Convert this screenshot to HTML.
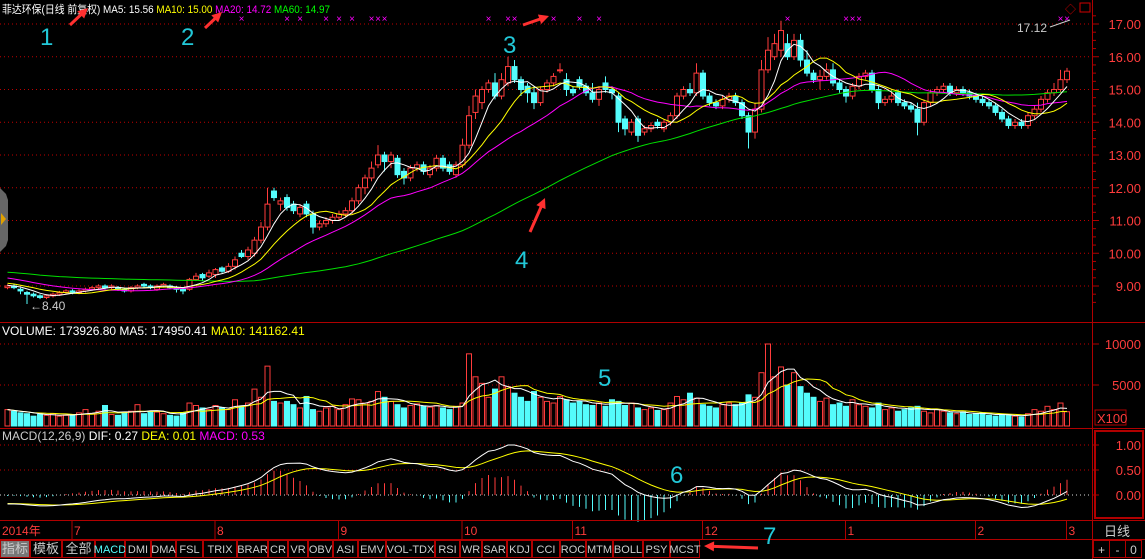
<!DOCTYPE html>
<html><head><meta charset="utf-8">
<style>
html,body{margin:0;padding:0;background:#000;}
body{width:1145px;height:559px;overflow:hidden;font-family:"Liberation Sans","Noto Sans CJK SC",sans-serif;}
svg{display:block;}
</style></head>
<body>
<svg id="chart" width="1145" height="559" xmlns="http://www.w3.org/2000/svg" font-family="Liberation Sans, Noto Sans CJK SC, sans-serif">
<rect x="0" y="0" width="1145" height="559" fill="#000"/>
<g id="grid"></g>
<g id="marks"></g>
<g id="frame"></g>
</svg>
<script>
const NS='http://www.w3.org/2000/svg';
const priorCloses=[9.9,9.85,9.9,9.8,9.75,9.8,9.7,9.65,9.7,9.6,9.55,9.6,9.5,9.45,9.5,9.4,9.35,9.4,9.3,9.3,9.25,9.2,9.2,9.15,9.1,9.1,9.05,9.0,9.05,9.0];
const closes=[9.0,8.95,8.85,8.75,8.7,8.65,8.7,8.75,8.8,8.85,8.8,8.85,8.9,8.95,9.0,8.95,9.0,8.9,8.85,8.95,9.0,9.0,8.95,9.0,9.05,8.95,8.9,8.85,
9.2,9.3,9.25,9.4,9.5,9.45,9.6,9.8,9.9,10.1,
10.4,10.8,11.5,11.7,11.6,11.4,11.3,11.4,11.2,10.8,
10.9,11.0,11.1,11.2,11.3,11.6,12.0,12.3,12.6,13.0,
12.8,13.0,12.4,12.3,12.6,12.7,12.5,12.6,12.9,12.6,
12.5,12.7,13.3,14.2,14.8,15.0,15.2,14.8,15.3,15.7,
15.3,15.0,14.9,14.6,15.0,15.2,15.4,15.6,15.0,14.9,
15.1,14.9,14.7,15.0,15.0,14.9,14.0,13.8,14.0,13.6,
13.8,13.9,13.9,14.0,14.2,14.8,15.0,14.9,15.5,14.8,
14.6,14.5,14.7,14.8,14.6,14.2,13.7,14.4,15.6,16.2,
16.4,16.8,16.0,16.5,15.9,15.5,15.3,15.4,15.6,15.2,
15.0,14.8,15.1,15.4,15.5,15.0,14.6,14.7,14.8,14.6,
14.5,14.4,14.0,14.6,14.9,15.0,15.1,14.9,15.0,14.9,
14.8,14.7,14.6,14.5,14.3,14.1,13.9,14.0,13.9,14.2,
14.4,14.7,14.9,15.0,15.3,15.56];
const opens=[8.95,9.0,8.9,8.8,8.75,8.7,8.65,8.7,8.75,8.8,8.85,8.8,8.85,8.9,8.95,9.0,8.95,8.95,8.9,8.85,8.95,9.05,9.0,8.9,9.0,9.0,8.95,8.9,
8.9,9.2,9.35,9.3,9.35,9.55,9.45,9.6,10.0,9.9,
10.0,10.4,10.8,11.9,11.5,11.7,11.5,11.2,11.5,11.2,
10.8,10.9,11.0,11.1,11.2,11.3,11.6,12.0,12.3,12.7,
13.0,12.8,12.9,12.5,12.3,12.6,12.7,12.4,12.6,12.9,
12.7,12.4,12.7,13.3,14.3,14.6,15.0,15.2,14.8,15.2,
15.7,15.3,15.1,14.9,14.6,15.0,15.2,15.6,15.3,15.0,
15.3,15.1,14.9,14.7,15.2,15.0,14.8,14.1,13.7,14.1,
13.7,13.8,14.0,13.8,14.0,14.2,14.8,15.0,14.9,15.5,
14.8,14.6,14.5,14.7,14.8,14.6,14.2,13.7,14.4,15.6,
16.0,16.2,16.4,16.0,16.5,15.9,15.5,15.3,15.4,15.6,
15.2,15.0,14.8,15.1,15.4,15.5,15.0,14.6,14.7,14.9,
14.6,14.5,14.4,14.0,14.6,14.9,15.0,15.1,14.9,15.0,
14.9,14.8,14.7,14.6,14.5,14.3,14.1,13.9,14.0,13.9,
14.2,14.4,14.7,14.9,15.0,15.3];
const upWicks=[0.05,0.05,0.05,0.05,0.05,0.05,0.05,0.05,0.05,0.05,0.05,0.05,0.05,0.05,0.05,0.05,0.05,0.05,0.05,0.05,0.05,0.05,0.05,0.05,0.05,0.05,0.05,0.05,
0.05,0.1,0.05,0.1,0.05,0.05,0.1,0.1,0.1,0.1,
0.1,0.15,0.5,0.1,0.1,0.1,0.1,0.1,0.1,0.1,
0.1,0.1,0.1,0.1,0.1,0.1,0.1,0.1,0.2,0.3,
0.1,0.1,0.1,0.1,0.1,0.1,0.1,0.1,0.1,0.1,
0.1,0.1,0.2,0.3,0.2,0.1,0.1,0.3,0.2,0.3,
0.2,0.1,0.1,0.2,0.1,0.1,0.1,0.2,0.2,0.1,
0.1,0.1,0.3,0.1,0.2,0.1,0.1,0.1,0.1,0.1,
0.1,0.1,0.1,0.1,0.1,0.1,0.1,0.2,0.3,0.1,
0.1,0.1,0.1,0.1,0.1,0.1,0.1,0.2,0.3,0.4,
0.3,0.3,0.3,0.2,0.2,0.3,0.1,0.2,0.2,0.2,
0.1,0.1,0.1,0.1,0.1,0.1,0.1,0.1,0.2,0.1,
0.1,0.1,0.2,0.1,0.1,0.1,0.1,0.1,0.1,0.1,
0.1,0.1,0.1,0.1,0.1,0.1,0.1,0.1,0.1,0.1,
0.1,0.1,0.1,0.2,0.3,0.1];
const downWicks=[0.05,0.05,0.1,0.3,0.05,0.05,0.05,0.05,0.05,0.05,0.05,0.05,0.05,0.05,0.05,0.05,0.05,0.05,0.05,0.05,0.05,0.05,0.05,0.05,0.05,0.05,0.1,0.1,
0.05,0.05,0.1,0.05,0.1,0.05,0.05,0.1,0.05,0.1,
0.1,0.1,0.1,0.1,0.2,0.1,0.1,0.1,0.1,0.2,
0.1,0.1,0.1,0.1,0.1,0.1,0.1,0.2,0.1,0.1,
0.3,0.2,0.1,0.2,0.1,0.1,0.1,0.1,0.1,0.1,
0.1,0.1,0.1,0.1,0.2,0.2,0.1,0.1,0.1,0.1,
0.1,0.2,0.3,0.2,0.1,0.1,0.1,0.1,0.2,0.1,
0.1,0.1,0.1,0.2,0.1,0.2,0.3,0.2,0.1,0.2,
0.1,0.1,0.1,0.1,0.1,0.1,0.1,0.1,0.1,0.1,
0.1,0.1,0.1,0.1,0.1,0.1,0.5,0.2,0.1,0.1,
0.1,0.2,0.1,0.1,0.2,0.1,0.1,0.3,0.1,0.1,
0.1,0.2,0.1,0.1,0.1,0.1,0.2,0.1,0.1,0.1,
0.1,0.1,0.4,0.1,0.1,0.1,0.1,0.1,0.1,0.1,
0.1,0.1,0.1,0.1,0.1,0.1,0.1,0.1,0.1,0.1,
0.1,0.1,0.1,0.1,0.1,0.1];
const volumes=[2000,1800,1600,1500,1200,1400,1300,1500,1200,1300,1400,1600,2000,1500,1800,2500,1400,1300,1600,1800,2600,1500,1800,1700,1500,1300,1200,1600,
2800,2500,2200,2000,2500,2200,2000,3200,2400,2800,
4500,3500,7300,3000,2800,3000,2600,2200,3600,2000,
1800,2200,2400,2000,2600,3300,3200,2800,3000,4200,
3500,3000,2600,2200,2500,2700,2400,2300,2500,2200,
2000,2400,2800,8800,6000,5200,3500,4500,6000,4800,
4000,3500,3000,4200,3500,3000,2800,3600,3200,2800,
3000,2600,2500,2800,2400,3200,3000,2500,2800,2200,
2000,2200,1900,2000,2800,3600,3200,4000,3400,2600,
2400,2200,2600,2800,2600,2800,3800,3500,6500,10000,
6000,7200,5000,6500,4800,4000,3500,3000,3400,2600,
2800,2400,3200,2600,2400,2200,2800,2000,2200,1800,
2000,2200,2400,1800,1600,2000,1800,1600,1500,1700,
1400,1500,1600,1300,1200,1400,1300,1200,1100,1500,
2000,1800,2400,2000,2800,1740];
const priceTicks=[17,16,15,14,13,12,11,10,9];
const volTicks=[10000,5000];
const macdTicks=[1.0,0.5,0.0];
const monthLabels=['2014年','7','8','9','10','11','12','1','2','3'];
const monthStartIdx=[0,11,33,52,71,88,108,130,150,164];
const tabLabels=['指标','模板','全部','MACD','DMI','DMA','FSL','TRIX','BRAR','CR','VR','OBV','ASI','EMV','VOL-TDX','RSI','WR','SAR','KDJ','CCI','ROC','MTM','BOLL','PSY','MCST'];
const tabWidths=[30,32,33,30,26,25,27,34,31,20,20,25,25,28,49,25,22,25,25,28,26,27,30,27,30];

const xC=i=>7.5+6.5*i;
const yP=p=>24+(17-p)*32.75;
const yV=v=>426-v*0.0082;
const yM=m=>495-m*50;

const G=document.getElementById('grid'),M=document.getElementById('marks'),F=document.getElementById('frame');
function mk(tag,attrs,parent){const e=document.createElementNS(NS,tag);for(const k in attrs)e.setAttribute(k,attrs[k]);parent.appendChild(e);return e;}
function txt(s,x,y,fill,size,parent,anchor){const t=mk('text',{x:x,y:y,fill:fill,'font-size':size},parent);if(anchor)t.setAttribute('text-anchor',anchor);t.textContent=s;return t;}

priceTicks.forEach(p=>{const l=mk('line',{x1:0,x2:1092,y1:yP(p),y2:yP(p),stroke:'#c00000','stroke-dasharray':'1,3'},G);

});
volTicks.forEach(v=>{const l=mk('line',{x1:0,x2:1092,y1:yV(v),y2:yV(v),stroke:'#c00000','stroke-dasharray':'1,3'},G);

});
macdTicks.forEach(m=>{const l=mk('line',{x1:0,x2:1092,y1:yM(m),y2:yM(m),stroke:m===0?'#ddd':'#c00000','stroke-dasharray':'1,3'},G);

});

const allC=priorCloses.concat(closes),off=priorCloses.length;
function ma(arr,n,offset){return closes.map((_,i)=>{const e=i+offset;const s=Math.max(0,e-n+1);let t=0;for(let k=s;k<=e;k++)t+=arr[k];return t/(e-s+1);});}
function poly(vals,yf,color,name,parent,w){const pts=vals.map((v,i)=>xC(i).toFixed(1)+','+yf(v).toFixed(1)).join(' ');
const p=mk('polyline',{points:pts,fill:'none',stroke:color,'stroke-width':w||1},parent);

}
const ma5=ma(allC,5,off),ma10=ma(allC,10,off),ma20=ma(allC,20,off),ma60=ma(allC,60,off);

closes.forEach((c,i)=>{const o=opens[i];const up=c>=o;const col=up?'#ff3c3c':'#54fcfc';const cx=xC(i);
const hi=Math.max(o,c)+upWicks[i],lo=Math.min(o,c)-downWicks[i];
const g=mk('g',{},M);


mk('line',{x1:cx,x2:cx,y1:yP(hi),y2:yP(lo),stroke:col},g);
const top=yP(Math.max(o,c)),h=Math.max(1,yP(Math.min(o,c))-top);
mk('rect',{x:cx-2.5,y:top,width:5,height:h,fill:up?'#000':col,stroke:col,'stroke-width':1},g);});
poly(ma60,yP,'#00e000','ma60-line',M);
poly(ma20,yP,'#ff00ff','ma20-line',M);
poly(ma10,yP,'#ffff00','ma10-line',M);
poly(ma5,yP,'#ffffff','ma5-line',M);

volumes.forEach((v,i)=>{const up=closes[i]>=opens[i];const col=up?'#ff3c3c':'#54fcfc';const cx=xC(i);
const r=mk('rect',{x:cx-2.5,y:yV(v),width:5,height:426-yV(v),fill:up?'#000':col,stroke:col},M);

});
function vma(n){return volumes.map((_,i)=>{const s=Math.max(0,i-n+1);let t=0;for(let k=s;k<=i;k++)t+=volumes[k];return t/(i-s+1);});}
poly(vma(10),yV,'#ffff00','volume-ma10-line',M);
poly(vma(5),yV,'#ffffff','volume-ma5-line',M);

function ema(arr,n){const a=2/(n+1);const out=[];let e=arr[0];arr.forEach((v,i)=>{e=i===0?v:a*v+(1-a)*e;out.push(e);});return out;}
const e12=ema(allC,12),e26=ema(allC,26);
const difAll=e12.map((v,i)=>v-e26[i]);const deaAll=ema(difAll,9);
const dif=difAll.slice(off),dea=deaAll.slice(off);
dif.forEach((d,i)=>{const h=2*(d-dea[i]);const cx=xC(i);
const l=mk('line',{x1:cx,x2:cx,y1:yM(0),y2:yM(h),stroke:h>=0?'#ff3c3c':'#54fcfc'},M);

});
poly(dea,yM,'#ffff00','dea-line',M);
poly(dif,yM,'#ffffff','dif-line',M);

const fc='#b00000';
[[0,322.5,1145,322.5],[0,428.5,1145,428.5],[0,520.5,1145,520.5],[0,539.5,1145,539.5],[1092.5,0,1092.5,559]].forEach(a=>{
const l=mk('line',{x1:a[0],y1:a[1],x2:a[2],y2:a[3],stroke:fc},F);

});
for(let p=8.5;p<=17.5;p+=0.25){const y=yP(p);if(y<10||y>320)continue;mk('line',{x1:1093,x2:(p%1===0)?1099:1096,y1:y,y2:y,stroke:fc},F);}
priceTicks.forEach(p=>{const t=txt(p.toFixed(2),1141,yP(p)+5,'#ff3c3c',13,F,'end');

});
volTicks.forEach(v=>{mk('line',{x1:1093,x2:1099,y1:yV(v),y2:yV(v),stroke:fc},F);const t=txt(String(v),1141,yV(v)+5,'#ff3c3c',13,F,'end');

});
macdTicks.forEach(m=>{mk('line',{x1:1093,x2:1099,y1:yM(m),y2:yM(m),stroke:fc},F);const t=txt(m.toFixed(2),1141,yM(m)+5,'#ff3c3c',13,F,'end');

});
mk('rect',{x:1095,y:410,width:31,height:15,fill:'none',stroke:fc},F);
txt('X100',1097,423,'#ff3c3c',13,F);
mk('rect',{x:1095,y:431,width:48,height:87,fill:'none',stroke:fc,'stroke-width':2},F);

monthLabels.forEach((m,i)=>{const x=i===0?2:xC(monthStartIdx[i])-5;
if(i>0)mk('line',{x1:x-2,x2:x-2,y1:521,y2:539,stroke:fc},F);
const t=txt(m,x,535,'#ff3c3c',12,F);

});
const dl=txt('日线',1104,536,'#cccccc',13,F);



let tx=0;tabLabels.forEach((lab,i)=>{const w=tabWidths[i];const g=mk('g',{},F);


mk('rect',{x:tx+0.5,y:540.5,width:w-1,height:17,fill:i===0?'#777':'#000',stroke:fc},g);
txt(lab,tx+w/2,553,i===3?'#54fcfc':'#cccccc',i<3?13:11,g,'middle');tx+=w;});
['+','-','0'].forEach((s,i)=>{const g=mk('g',{},F);


mk('rect',{x:1093.5+i*16,y:540.5,width:16,height:17,fill:'#000',stroke:fc},g);
txt(s,1101.5+i*16,554,'#ccc',12,g,'middle');});

const hdr=mk('text',{x:2,y:13,'font-size':11,textLength:328,lengthAdjust:'spacingAndGlyphs'},F);


[['菲达环保(日线 前复权) MA5: 15.56 ','#fff'],['MA10: 15.00 ','#ffff00'],['MA20: 14.72 ','#ff00ff'],['MA60: 14.97','#00ff00']].forEach(a=>{const s=mk('tspan',{fill:a[1]},hdr);s.textContent=a[0];});
const vh=mk('text',{x:2,y:335,'font-size':12},F);


[['VOLUME: 173926.80  MA5: 174950.41  ','#fff'],['MA10: 141162.41','#ffff00']].forEach(a=>{const s=mk('tspan',{fill:a[1]},vh);s.textContent=a[0];});
const mh=mk('text',{x:2,y:440,'font-size':12},F);


[['MACD(12,26,9)  ','#ccc'],['DIF: 0.27  ','#fff'],['DEA: 0.01  ','#ffff00'],['MACD: 0.53','#ff00ff']].forEach(a=>{const s=mk('tspan',{fill:a[1]},mh);s.textContent=a[0];});

const xMarkIdx=[36,43,45,49,51,53,56,57,58,74,77,78,84,88,91,120,129,130,131,162,163];
xMarkIdx.forEach(i=>{const t=txt('×',xC(i),22,'#ff00ff',10,F,'middle');

});

const lo=txt('←8.40',30,310,'#cccccc',12,F);


const hi=txt('17.12',1017,32,'#cccccc',12,F);


mk('line',{x1:1050,y1:27,x2:1070,y2:20,stroke:'#ccc'},F);
const ic=txt('◇',1065,13,'#d00000',11,F);


const ic2=mk('rect',{x:1080,y:3,width:10,height:9,fill:'none',stroke:'#d00000'},F);


const lh=mk('path',{d:'M0,188 L6,194 L8,200 L8,240 L6,246 L0,252 Z',fill:'#666'},F);


mk('path',{d:'M1,213 L6,219 L1,225 Z',fill:'#e0a000'},F);

const annNums=[['1',40,45],['2',181,45],['3',503,53],['4',515,268],['5',598,386],['6',670,483],['7',763,544]];
annNums.forEach(a=>{const t=txt(a[0],a[1],a[2],'#22c8d8',24,F);

});
const arrows=[[70,25,88,8],[205,28,222,12],[523,25,549,16],[530,232,545,198],[758,548,704,546]];
arrows.forEach(a=>{const dx=a[2]-a[0],dy=a[3]-a[1],L=Math.hypot(dx,dy),ux=dx/L,uy=dy/L;
const g=mk('g',{},F);


mk('line',{x1:a[0],y1:a[1],x2:a[2]-ux*6,y2:a[3]-uy*6,stroke:'#ff3030','stroke-width':3},g);
mk('polygon',{points:[a[2],a[3],a[2]-ux*10-uy*5,a[3]-uy*10+ux*5,a[2]-ux*10+uy*5,a[3]-uy*10-ux*5].join(','),fill:'#ff3030'},g);});
</script>
</body></html>
